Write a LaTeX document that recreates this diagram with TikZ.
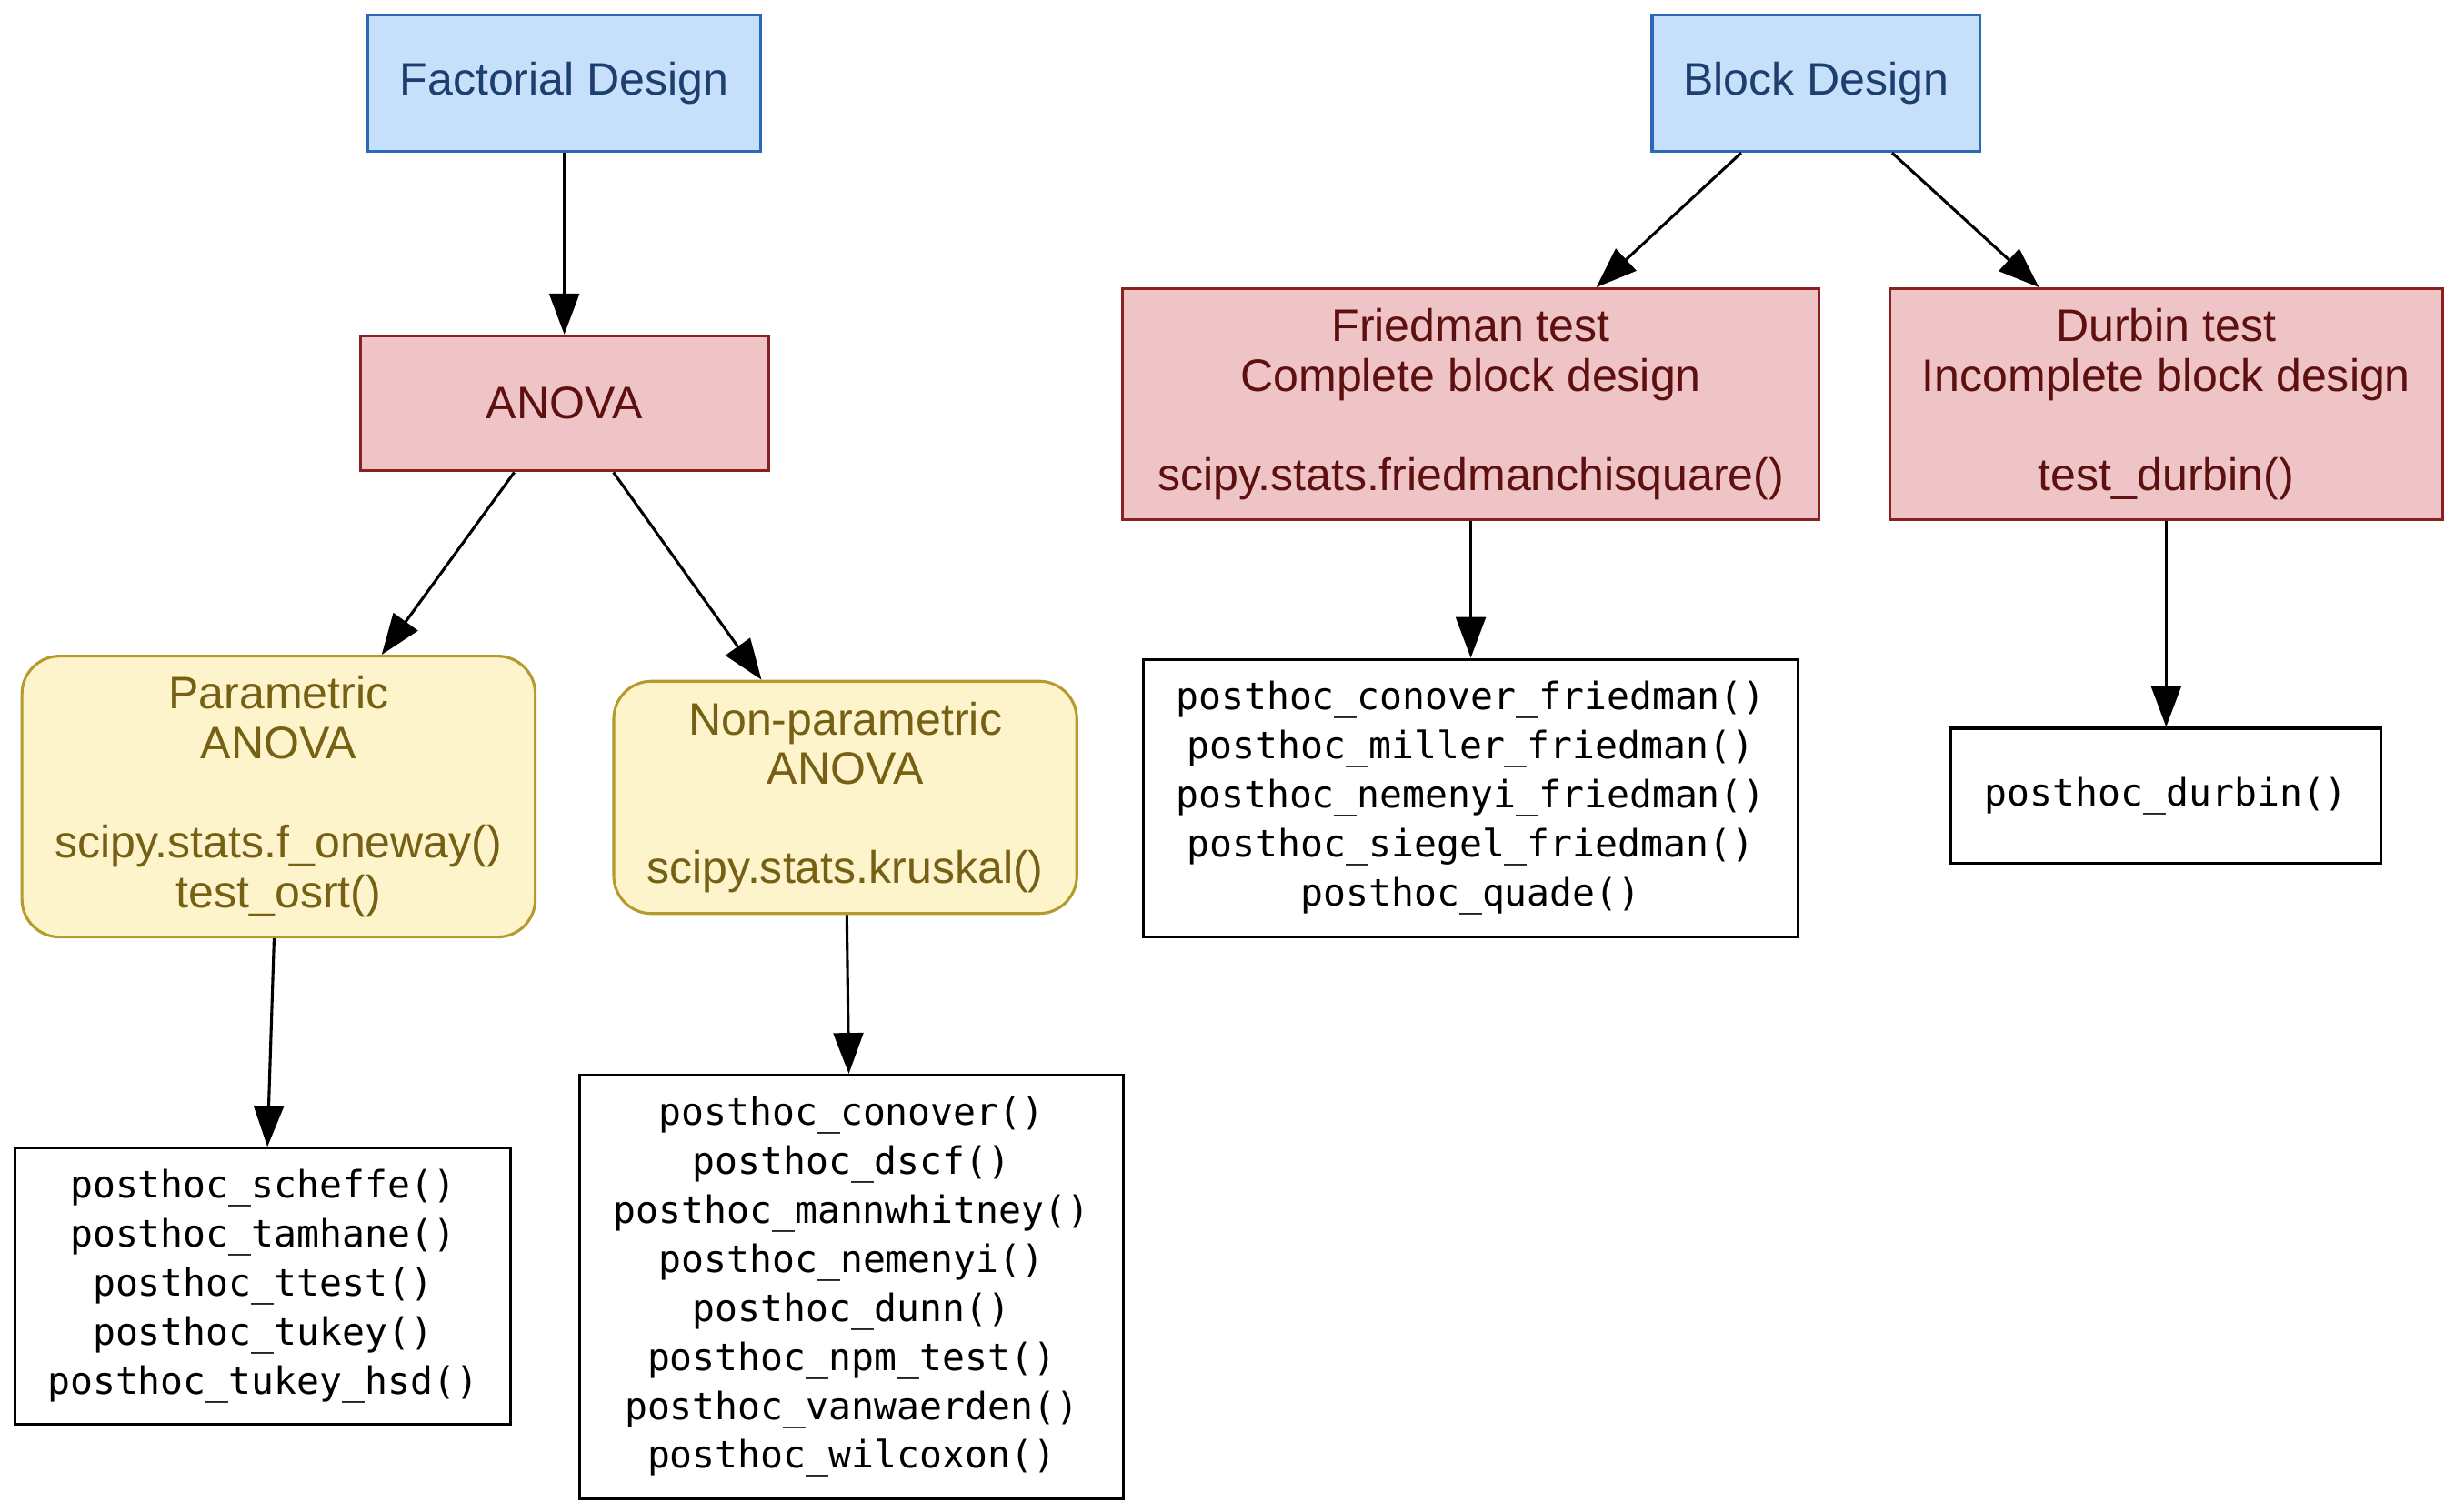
\documentclass[tikz,border=0pt]{standalone}
\usepackage{fontspec}
\setmainfont{Liberation Sans}
\setmonofont{DejaVu Sans Mono}
\usepackage{xcolor}
\usepackage{tikz}
\usetikzlibrary{arrows.meta}
\definecolor{designfill}{HTML}{C6DFFB}
\definecolor{designline}{HTML}{2C68BA}
\definecolor{designtext}{HTML}{1C3F6E}
\definecolor{testfill}{HTML}{EEC4C6}
\definecolor{testline}{HTML}{8B2020}
\definecolor{testtext}{HTML}{5E1010}
\definecolor{famfill}{HTML}{FEF4CC}
\definecolor{famline}{HTML}{B59A2D}
\definecolor{famtext}{HTML}{756014}

\begin{document}
\begin{tikzpicture}[x=0.5pt, y=-0.5pt, line width=0.9pt,
        box/.style={rectangle, draw, line width=0.9pt, align=center, inner sep=2pt,
        font=\fontsize{14.5}{15.8}\selectfont},
        design/.style={box, fill=designfill, draw=designline, text=designtext},
        test/.style={box, fill=testfill, draw=testline, text=testtext},
        family/.style={box, rounded corners=12pt, fill=famfill, draw=famline, text=famtext},
        calls/.style={box, draw=black, font=\ttfamily\fontsize{12}{15.6}\selectfont},
        >={Triangle[length=13pt, width=9.5pt]}]

        \useasboundingbox (0,0) rectangle (1564,963);

        \node[design, minimum width=125pt, minimum height=43.5pt] (fact) at (359.5,53) {Factorial Design};
        \node[test, minimum width=130pt, minimum height=43pt] (anova) at (359.5,257) {ANOVA};
        \node[family, minimum width=163.5pt, minimum height=89.5pt] (param) at (177.5,507.5) {
            Parametric\\ANOVA\\[15.8pt]scipy.stats.f\_oneway()\\test\_osrt()
        };
        \node[family, minimum width=147.5pt, minimum height=74pt] (nonpar) at (538.5,508) {
            Non-parametric\\ANOVA\\[15.8pt]scipy.stats.kruskal()
        };
        \node[calls, minimum width=158pt, minimum height=88pt] (phpar) at (167.5,819.5) {
            posthoc\_scheffe()\\posthoc\_tamhane()\\posthoc\_ttest()\\
            posthoc\_tukey()\\posthoc\_tukey\_hsd()
        };
        \node[calls, minimum width=173pt, minimum height=135pt] (phnon) at (542.5,820) {
            posthoc\_conover()\\posthoc\_dscf()\\posthoc\_mannwhitney()\\
            posthoc\_nemenyi()\\posthoc\_dunn()\\posthoc\_npm\_test()\\
            posthoc\_vanwaerden()\\posthoc\_wilcoxon()
        };

        \node[design, minimum width=104.5pt, minimum height=43.5pt] (block) at (1157,53) {Block Design};
        \node[test, minimum width=222pt, minimum height=73.5pt] (fried) at (937,257.5) {
            Friedman test\\Complete block design\\[15.8pt]scipy.stats.friedmanchisquare()
        };
        \node[test, minimum width=176pt, minimum height=73.5pt] (durbin) at (1380,257.5) {
            Durbin test\\Incomplete block design\\[15.8pt]test\_durbin()
        };
        \node[calls, minimum width=208.5pt, minimum height=88.5pt] (phfried) at (937,508.5) {
            posthoc\_conover\_friedman()\\posthoc\_miller\_friedman()\\
            posthoc\_nemenyi\_friedman()\\posthoc\_siegel\_friedman()\\posthoc\_quade()
        };
        \node[calls, minimum width=137pt, minimum height=43pt] (phdurb) at (1380,507) {posthoc\_durbin()};

        \draw[->] (fact) -- (anova);
        \draw[->] (anova) -- (param);
        \draw[->] (anova) -- (nonpar);
        \draw[->] (param) -- (phpar);
        \draw[->] (nonpar) -- (phnon);
        \draw[->] (block) -- (fried);
        \draw[->] (block) -- (durbin);
        \draw[->] (fried) -- (phfried);
        \draw[->] (durbin) -- (phdurb);

    \end{tikzpicture}
\end{document}
